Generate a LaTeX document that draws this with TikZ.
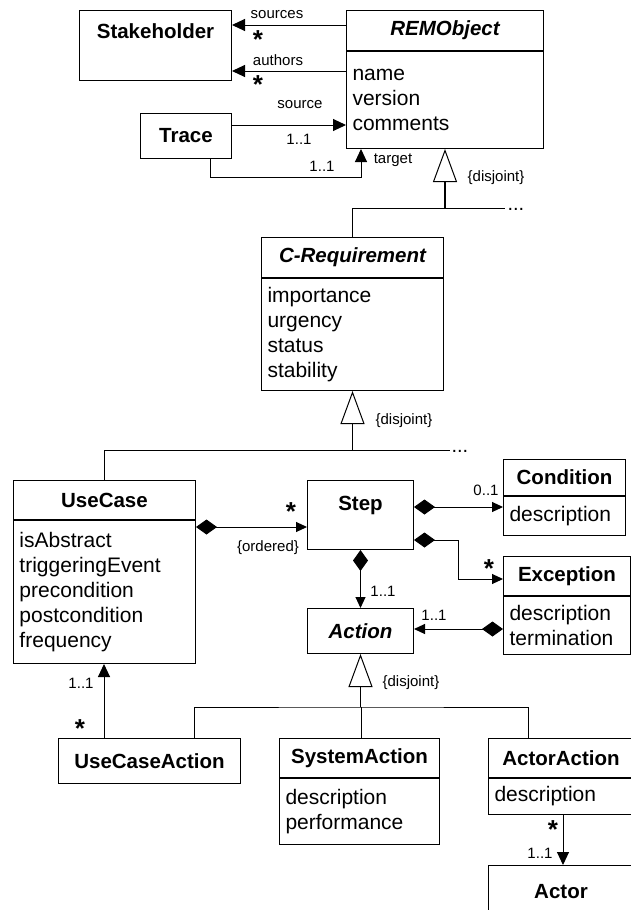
\documentclass[tikz,border=0pt]{standalone}
\usepackage{fontspec}
\setmainfont{Liberation Sans}
\usetikzlibrary{arrows.meta,positioning}

\tikzset{
  classhead/.style={draw, rectangle, inner sep=0pt, anchor=north west, align=center,
    font=\fontsize{20.5}{24}\selectfont\bfseries},
  classattr/.style={draw, rectangle, inner xsep=6pt, inner ysep=0pt, anchor=north west, align=left,
    font=\fontsize{21}{25}\selectfont},
  lbl/.style={inner sep=0pt, font=\fontsize{15}{17}\selectfont},
  mult/.style={inner sep=0pt, anchor=base, font=\fontsize{26}{28}\selectfont\bfseries},
  more/.style={inner sep=0pt, anchor=base west, font=\fontsize{20}{22}\selectfont},
  assoc/.style={line width=1pt, -{Triangle[length=13pt,width=12pt]}},
  compos/.style={line width=1pt, {Diamond[length=21pt,width=15pt]}-{Triangle[length=11pt,width=10pt]}},
  gen/.style={line width=1.6pt, -{Triangle[open,length=33pt,width=24pt,line width=1pt]}},
}

\begin{document}
\begin{tikzpicture}[x=1pt, y=-1pt, line width=1pt]

\useasboundingbox (0,0) rectangle (631,910);
\clip (0,0) rectangle (631,910);

% classes
\node[classhead, minimum width=152pt, minimum height=70pt, text depth=29pt] (stakeholder) at (79,10) {Stakeholder};
\node[classhead, minimum width=197pt, minimum height=40pt] (remhead) at (346,10) {\itshape REMObject};
\node[classattr, text width=185pt, minimum height=97pt] (remattr) at (remhead.south west) {name\\version\\comments};
\node[classhead, minimum width=91pt, minimum height=45pt] (trace) at (140,113) {Trace};

\node[classhead, minimum width=182pt, minimum height=40pt] (creqhead) at (261,237) {\itshape C-Requirement};
\node[classattr, text width=170pt, minimum height=112pt] (creqattr) at (creqhead.south west) {importance\\urgency\\status\\stability};

\node[classhead, minimum width=182pt, minimum height=39pt] (usehead) at (13,480) {UseCase};
\node[classattr, text width=170pt, minimum height=143pt] (useattr) at (usehead.south west) {isAbstract\\triggeringEvent\\precondition\\postcondition\\frequency};
\node[classhead, minimum width=106pt, minimum height=69pt, text depth=24pt] (step) at (307,480) {Step};
\node[classhead, minimum width=122pt, minimum height=36pt] (condhead) at (503,459) {Condition};
\node[classattr, text width=110pt, minimum height=39pt] (condattr) at (condhead.south west) {description};
\node[classhead, minimum width=127pt, minimum height=39pt] (exchead) at (503,556) {Exception};
\node[classattr, text width=115pt, minimum height=58pt] (excattr) at (exchead.south west) {description\\termination};
\node[classhead, minimum width=106pt, minimum height=45pt] (action) at (307,608) {\itshape Action};

\node[classhead, minimum width=182pt, minimum height=45pt] (ucaction) at (58,738) {UseCaseAction};
\node[classhead, minimum width=160pt, minimum height=39pt] (syshead) at (279,738) {SystemAction};
\node[classattr, text width=148pt, minimum height=66pt] (sysattr) at (syshead.south west) {description\\performance};
\node[classhead, minimum width=145pt, minimum height=39pt] (acthead) at (488,738) {ActorAction};
\node[classattr, text width=133pt, minimum height=36pt] (actattr) at (acthead.south west) {description};
\node[classhead, minimum width=145pt, minimum height=60pt, text depth=9pt] (actor) at (488,865) {Actor};

% associations around REMObject
\draw[assoc] (remhead.west |- 0,25) -- (stakeholder.east |- 0,25);
\draw[assoc] (remattr.west |- 0,71) -- (stakeholder.east |- 0,71);
\draw[assoc] (trace.east |- 0,125) -- (remattr.west |- 0,125);
\draw[assoc] (trace.south -| 210,0) |- (361,177) -- (remattr.south -| 361,0);
\node[lbl] (lsources) at (277,15) {sources};
\node[mult] (msources) at (258,48) {*};
\node[lbl] (lauthors) at (278,60) {authors};
\node[mult] (mauthors) at (258,93) {*};
\node[lbl] (lsource) at (300,105) {source};
\node[lbl] (msource) at (299,139) {1..1};
\node[lbl] (mtarget) at (322,166) {1..1};
\node[lbl] (ltarget) at (393,160) {target};

% generalization REMObject
\draw[gen] (remattr.south |- 0,208) -- (remattr.south);
\draw (creqhead.north -| 352,0) |- (505,208);
\node[more] (moreobj) at (507,210) {...};
\node[lbl] (disjobj) at (496,178) {\{disjoint\}};

% generalization C-Requirement
\draw[gen] (creqattr.south |- 0,450) -- (creqattr.south);
\draw (usehead.north -| 104,0) |- (450,450);
\node[more] (morereq) at (451,452) {...};
\node[lbl] (disjreq) at (404,421) {\{disjoint\}};

% compositions of steps
\draw[compos] (useattr.east |- 0,527) -- (step.west |- 0,527);
\node[mult] (mstep) at (291,520) {*};
\node[lbl] (lordered) at (268,548) {\{ordered\}};
\draw[compos] (step.east |- 0,507) -- (condattr.west |- 0,507);
\node[lbl] (mcond) at (486,490) {0..1};
\draw[compos] (step.east |- 0,540) -| (458,579) -- (exchead.west |- 0,579);
\node[mult] (mexc) at (489,577) {*};
\draw[compos] (step.south) -- (action.north);
\node[lbl] (mstepact) at (383,591) {1..1};
\draw[compos] (excattr.west |- 0,629) -- (action.east |- 0,629);
\node[lbl] (mexcact) at (434,615) {1..1};

% generalization Action
\draw[gen] (action.south |- 0,707) -- (action.south);
\draw (ucaction.north -| 194,0) |- (361,707) -| (acthead.north -| 528,0);
\draw (syshead.north -| 361,0) -- (361,707);
\node[lbl] (disjact) at (411,683) {\{disjoint\}};

% other associations
\draw[assoc] (ucaction.north -| 104,0) -- (useattr.south -| 104,0);
\node[lbl] (muse) at (81,683) {1..1};
\node[mult] (mucact) at (80,737) {*};
\draw[assoc] (actattr.south -| 563,0) -- (actor.north -| 563,0);
\node[mult] (mactact) at (553,838) {*};
\node[lbl] (mactor) at (540,853) {1..1};

\end{tikzpicture}
\end{document}
